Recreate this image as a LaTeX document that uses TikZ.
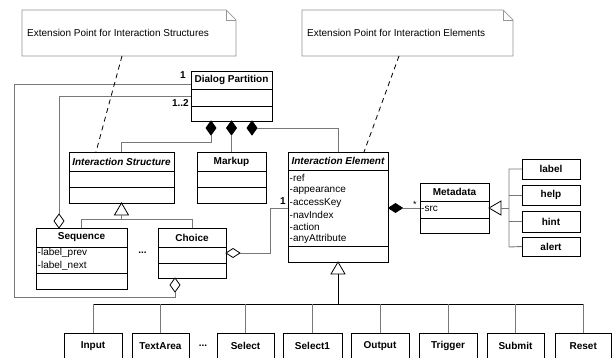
\documentclass[tikz,border=0pt]{standalone}
\usepackage{fontspec}
\setmainfont{Liberation Sans}

\definecolor{connc}{RGB}{120,120,120}
\definecolor{notec}{RGB}{150,150,150}

% class box spanning (x1,y1)-(x2,y2); y grows downwards
\newcommand\umlbox[5]{\node[box, minimum width={(#4-#2)*1pt}, minimum height={(#5-#3)*1pt}] (#1) at (#2,#3) {};}
% compartment separator
\newcommand\compsep[3]{\draw[boxline] (#1,#3) -- (#2,#3);}
% vertical diamond whose top tip is at (x,ytop); bottom tip named
\newcommand\vdiam[4]{\draw[dmd, fill=#4] (#2,#3) -- ++(5,7) -- ++(-5,7) -- ++(-5,-7) -- cycle; \coordinate (#1) at (#2,#3+14);}
% horizontal diamond whose left tip is at (xleft,y); right tip named
\newcommand\hdiam[4]{\draw[dmd, fill=#4] (#2,#3) -- ++(7,-4.5) -- ++(7,4.5) -- ++(-7,4.5) -- cycle; \coordinate (#1) at (#2+14,#3);}
% leaf class running past the lower edge, with its name
\newcommand\leafbox[4]{\node[box, minimum width={(#3-#2)*1pt}, minimum height=34pt] (#1) at (#2,333) {};
  \node[ttl] (#1t) at ({(#2+#3)/2},346) {#4};}

\begin{document}
\begin{tikzpicture}[x=1pt,y=-1pt,
  box/.style={draw=black, line width=0.9pt, fill=white, anchor=north west, inner sep=0pt, outer sep=0pt},
  boxline/.style={draw=black, line width=0.9pt},
  smallbox/.style={draw=black, line width=0.9pt, fill=white, anchor=north west, inner sep=0pt, outer sep=0pt,
    font=\fontsize{10}{12}\selectfont\bfseries},
  ttl/.style={inner sep=0pt, font=\fontsize{10}{12}\selectfont\bfseries},
  ttli/.style={inner sep=0pt, font=\fontsize{10}{12}\selectfont\bfseries\itshape},
  attr/.style={inner sep=0pt, anchor=west, font=\fontsize{10}{12}\selectfont},
  mult/.style={inner sep=0pt, font=\fontsize{10}{12}\selectfont\bfseries},
  conn/.style={draw=connc, line width=0.9pt},
  trunk/.style={draw=black, line width=0.9pt},
  dmd/.style={draw=black, line width=0.8pt, line join=miter},
  tri/.style={draw=black, line width=0.8pt, fill=white},
  noteline/.style={draw=notec, line width=0.7pt, fill=white},
  notetxt/.style={inner sep=0pt, anchor=west, font=\fontsize{10}{12}\selectfont},
  dashln/.style={draw=black, line width=0.8pt, dash pattern=on 5pt off 4pt},
  dots/.style={inner sep=0pt, font=\fontsize{10}{12}\selectfont\bfseries}
]
\useasboundingbox (0,0) rectangle (612,358);
\clip (0,0) rectangle (612,358);
\fill[white] (0,0) rectangle (612,358);

% ---------- notes ----------
\node[box, draw=none, fill=none, minimum width=214pt, minimum height=46pt] (n1) at (22,10) {};
\draw[noteline] (n1.south west) -- (n1.north west) -- ([xshift=-10pt]n1.north east)
  -- ([yshift=-10pt]n1.north east) -- (n1.south east) -- cycle;
\draw[noteline, fill=none] ([xshift=-10pt]n1.north east) |- ([yshift=-10pt]n1.north east);
\node[notetxt] (n1t) at (27,33) {Extension Point for Interaction Structures};

\node[box, draw=none, fill=none, minimum width=211pt, minimum height=46pt] (n2) at (302,10) {};
\draw[noteline] (n2.south west) -- (n2.north west) -- ([xshift=-10pt]n2.north east)
  -- ([yshift=-10pt]n2.north east) -- (n2.south east) -- cycle;
\draw[noteline, fill=none] ([xshift=-10pt]n2.north east) |- ([yshift=-10pt]n2.north east);
\node[notetxt] (n2t) at (307,33) {Extension Point for Interaction Elements};

% ---------- classes ----------
% Dialog Partition
\umlbox{dp}{191}{71}{272}{121}
\compsep{191}{272}{89}\compsep{191}{272}{106}
\node[ttl] (dpt) at (231.5,80) {Dialog Partition};

% Interaction Structure
\umlbox{is}{69}{152}{174}{203}
\compsep{69}{174}{171}\compsep{69}{174}{187}
\node[ttli] (ist) at (121.5,161.5) {Interaction Structure};

% Markup
\umlbox{mk}{197}{152}{266}{203}
\compsep{197}{266}{171}\compsep{197}{266}{187}
\node[ttl] (mkt) at (231.5,161.5) {Markup};

% Interaction Element
\umlbox{ie}{288}{152}{388}{262}
\compsep{288}{388}{170}\compsep{288}{388}{246}
\node[ttli] (iet) at (338,161) {Interaction Element};
\node[attr] (iea1) at (289.5,178) {-ref};
\node[attr] (iea2) at (289.5,190.5) {-appearance};
\node[attr] (iea3) at (289.5,203) {-accessKey};
\node[attr] (iea4) at (289.5,215) {-navIndex};
\node[attr] (iea5) at (289.5,227) {-action};
\node[attr] (iea6) at (289.5,239) {-anyAttribute};

% Sequence
\umlbox{sq}{36}{228}{127}{289}
\compsep{36}{127}{247}\compsep{36}{127}{273}
\node[ttl] (sqt) at (81.5,237.5) {Sequence};
\node[attr] (sqa1) at (37.5,252.5) {-label\_prev};
\node[attr] (sqa2) at (37.5,265.5) {-label\_next};

% Choice
\umlbox{ch}{158}{228}{226}{278}
\compsep{158}{226}{247}\compsep{158}{226}{263}
\node[ttl] (cht) at (192,237.5) {Choice};

\node[dots] (dots1) at (142.5,253) {...};

% Metadata
\umlbox{md}{420}{183}{489}{233}
\compsep{420}{489}{201}\compsep{420}{489}{218}
\node[ttl] (mdt) at (454.5,192) {Metadata};
\node[attr] (mda1) at (421,208.5) {-src};

% metadata kinds
\node[smallbox, minimum width=58pt, minimum height=20pt] (lbl) at (522,159) {label};
\node[smallbox, minimum width=58pt, minimum height=20pt] (hlp) at (522,185) {help};
\node[smallbox, minimum width=58pt, minimum height=21pt] (hnt) at (522,211) {hint};
\node[smallbox, minimum width=58pt, minimum height=19pt] (alr) at (522,237) {alert};

% concrete interaction elements
\leafbox{inp}{64}{122}{Input}
\leafbox{txa}{132}{189}{TextArea}
\node[dots] (dots2) at (203,346) {...};
\leafbox{sel}{217}{274}{Select}
\leafbox{sl1}{283}{342}{Select1}
\leafbox{out}{351}{409}{Output}
\leafbox{trg}{419}{477}{Trigger}
\leafbox{sbm}{487}{544}{Submit}
\leafbox{rst}{555}{611.5}{Reset}

% ---------- connectors ----------
% Dialog Partition composition
\vdiam{dpd1}{211}{121}{black}
\vdiam{dpd2}{231.5}{121}{black}
\vdiam{dpd3}{252}{121}{black}
\coordinate (dpd3r) at (257,128);
\draw[conn] (dpd1) -- ++(0,7) -| (is.north);
\draw[conn] (dpd2) -- (mk.north);
\draw[conn] (dpd3r) -| (ie.north);

% recursive aggregations back to Dialog Partition
\vdiam{sqd}{59}{214}{white}
\coordinate (sqdtop) at (59,214);
\draw[conn] (dp.west |- 0,96) -| (sqdtop);
\node[mult, anchor=east] (m12) at (189,103) {1..2};

\vdiam{chd}{175}{278}{white}
\draw[conn] (dp.west |- 0,84) -| (14,297) -| (chd);
\node[mult] (m1a) at (183,75) {1};

% generalization of Interaction Structure
\draw[tri] (is.south) -- ++(7,12) -- ++(-14,0) -- cycle;
\coordinate (istri) at (121.5,215);
\draw[conn] (istri) -- (121.5,219) -| (sq.north);
\draw[conn] (121.5,219) -| (ch.north);

% Choice aggregates Interaction Element
\hdiam{chr}{226}{253}{white}
\draw[conn] (chr) -- (270,253) |- (ie.west |- 0,208);
\node[mult] (m1b) at (283,201) {1};

% Interaction Element composes Metadata
\hdiam{ier}{388.5}{208}{black}
\draw[conn] (ier) -- (md.west);
\node[attr, font=\fontsize{9}{10}\selectfont] (mstar) at (413,204) {*};

% Metadata generalization
\draw[tri] (md.east) -- ++(12,-7) -- ++(0,14) -- cycle;
\coordinate (mdtri) at (501,208);
\draw[conn] (mdtri) -- (509,208);
\draw[conn] (lbl.west) -| (509,247) -- (alr.west);
\draw[conn] (hlp.west) -- (hlp.west -| 509,0);
\draw[conn] (hnt.west) -- (hnt.west -| 509,0);

% Interaction Element generalization
\draw[tri] (ie.south) -- ++(7,12) -- ++(-14,0) -- cycle;
\coordinate (ietri) at (338,274);
\draw[trunk] (ietri) -- (338,304);
\draw[trunk] (inp.north |- 0,304) -- (rst.north |- 0,304);
\foreach \b in {inp,txa,sel,sl1,out,trg,sbm,rst}
  \draw[conn] (\b.north) -- (\b.north |- 0,304);

% notes anchored to the abstract classes
\draw[dashln] (n1.south -| 122,0) -- (is.north -| 96,0);
\draw[dashln] (n2.south -| 399,0) -- (ie.north -| 364,0);
\end{tikzpicture}
\end{document}
